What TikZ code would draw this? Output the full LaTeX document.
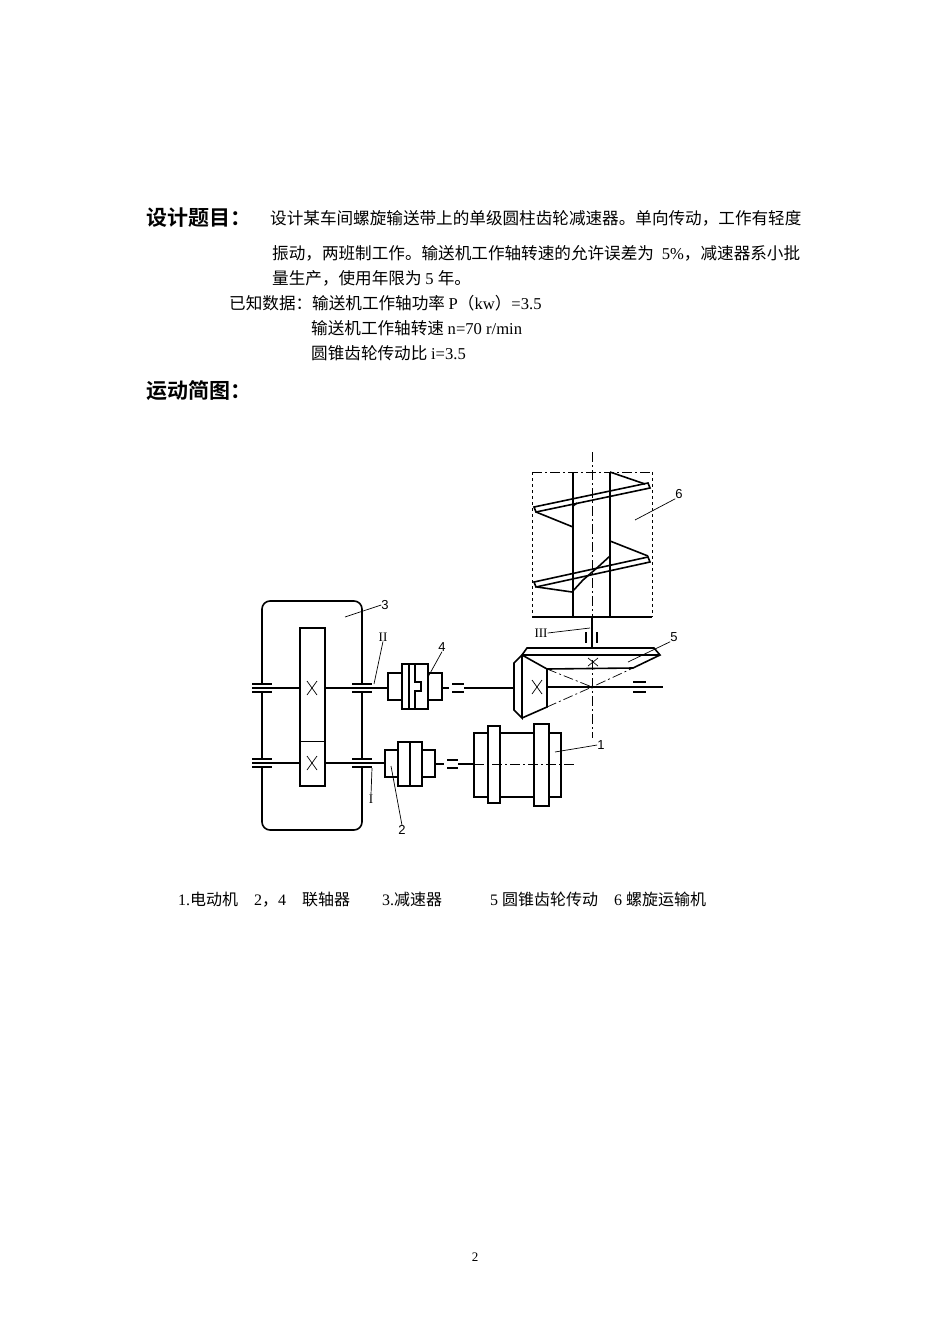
\documentclass[tikz,border=0pt]{standalone}
\usepackage{fontspec}
\setmainfont{Liberation Serif}
\newfontfamily\cjk{Noto Sans CJK SC}
\newfontfamily\cjkb{Noto Sans CJK SC Bold}
\newfontfamily\lab{Liberation Sans}
\begin{document}
\begin{tikzpicture}[x=1pt,y=-1pt,
  thk/.style={line width=1.6pt},
  thn/.style={line width=0.7pt},
  dd/.style={line width=0.7pt,dash pattern=on 10pt off 3pt on 2pt off 3pt},
  bt/.style={anchor=base west,inner sep=0pt,font=\fontsize{16.6}{18}\selectfont},
  lb/.style={inner sep=0pt,font=\lab\fontsize{13}{14}\selectfont}]
\useasboundingbox[fill=white] (0,0) rectangle (950,1344);
% ---- text
\node[bt,font=\cjkb\fontsize{21}{24}\selectfont] (t1) at (146,225) {设计题目：};
\node[bt] (l1) at (270,224) {\cjk 设计某车间螺旋输送带上的单级圆柱齿轮减速器。单向传动，工作有轻度};
\node[bt] (l2) at (272,259) {\cjk 振动，两班制工作。输送机工作轴转速的允许误差为 \rmfamily\ 5\%\cjk ，减速器系小批};
\node[bt] (l3) at (272,284) {\cjk 量生产，使用年限为 \rmfamily 5 \cjk 年。};
\node[bt] (l4) at (229,309) {\cjk 已知数据：输送机工作轴功率 \rmfamily P\cjk （\rmfamily kw\cjk ）\rmfamily =3.5};
\node[bt] (l5) at (311,334) {\cjk 输送机工作轴转速 \rmfamily n=70 r/min};
\node[bt] (l6) at (311,359) {\cjk 圆锥齿轮传动比 \rmfamily i=3.5};
\node[bt,font=\cjkb\fontsize{21}{24}\selectfont] (t2) at (146,398) {运动简图：};
\node[bt,font=\fontsize{16}{18}\selectfont] (cap) at (178,905) {1.\cjk 电动机\rmfamily\quad 2\cjk ，\rmfamily 4\quad \cjk 联轴器\rmfamily\qquad 3.\cjk 减速器\rmfamily\qquad\quad 5 \cjk 圆锥齿轮传动\rmfamily\quad 6 \cjk 螺旋运输机};
\node[font=\fontsize{13}{14}\selectfont,inner sep=0pt] (pg) at (475,1257) {2};
% ---- reducer housing
\draw[thk,rounded corners=8pt] (262,683) -- (262,601) -- (362,601) -- (362,683);
\draw[thk,rounded corners=8pt] (262,767) -- (262,830) -- (362,830) -- (362,767);
\draw[thk] (262,692) -- (262,758) (362,692) -- (362,758);
\foreach \y in {688,763}{
  \draw[thk] (252,\y-4) -- (272,\y-4) (252,\y+4) -- (272,\y+4);
  \draw[thk] (352,\y-4) -- (372,\y-4) (352,\y+4) -- (372,\y+4);
}
\draw[thk] (300,628) rectangle (325,786);
\draw[thn] (300,741) -- (325,741);
\foreach \y in {688,763}{\draw[thn] (307,\y-7) -- (317,\y+7) (317,\y-7) -- (307,\y+7);}
\draw[thk] (252,688) -- (300,688) (325,688) -- (388,688);
\draw[thk] (252,763) -- (300,763) (325,763) -- (385,763);
% coupling 4
\draw[thk] (388,673) rectangle (402,700) (402,664) rectangle (428,709) (428,673) rectangle (442,700);
\draw[thk] (409,664) -- (409,709);
\draw[thk] (415,664) -- (415,682) -- (421,682) -- (421,691) -- (415,691) -- (415,709);
\draw[thk] (442,688) -- (449,688);
\draw[thk] (452,684) -- (464,684) (452,692) -- (464,692);
\draw[thk] (464,688) -- (514,688);
% coupling 2
\draw[thk] (385,750) rectangle (398,777) (398,742) rectangle (422,786) (422,750) rectangle (435,777);
\draw[thk] (410,742) -- (410,786);
\draw[thk] (435,764) -- (444,764);
\draw[thk] (447,760) -- (458,760) (447,768) -- (458,768);
\draw[thk] (458,764) -- (474,764);
% motor
\draw[thk] (474,733) rectangle (488,797) (488,726) rectangle (500,803) (500,733) rectangle (534,797) (534,724) rectangle (549,806) (549,733) rectangle (561,797);
\draw[dd] (474,764) -- (575,764);
% bevel pinion
\draw[thk] (514,663) -- (522,655) -- (522,718) -- (514,710) -- cycle;
\draw[thk] (522,655) -- (547,669) -- (547,707) -- (522,718);
\draw[thn] (532,680) -- (542,694) (542,680) -- (532,694);
\draw[thk] (547,687) -- (663,687);
\draw[thk] (633,682) -- (646,682) (633,692) -- (646,692);
% bevel gear
\draw[thk] (522,655) -- (527,648) -- (654,648) -- (660,655) -- (633,668) -- (547,669);
\draw[thk] (522,655) -- (660,655);
\draw[thn] (588,658) -- (598,666) (598,658) -- (588,666);
\draw[dd] (547,669) -- (592,687) (547,707) -- (592,687) -- (633,668);
\draw[dd] (592,660) -- (592,738);
\fill (592,687) circle (1.5pt);
% shaft III
\draw[thk] (592,617) -- (592,648);
\draw[thk] (586,632) -- (586,643) (597,632) -- (597,643);
% screw conveyor
\draw[dd] (532,472) -- (652,472);
\draw[thn,dashed] (532,472) -- (532,617) (652,472) -- (652,617);
\draw[thk] (532,617) -- (652,617);
\draw[thk] (573,472) -- (573,617) (610,472) -- (610,617);
\draw[dd] (592,452) -- (592,617);
\draw[thk] (534,507) -- (648,483) -- (650,488) -- (536,512) -- cycle;
\draw[thk] (534,582) -- (648,557) -- (650,562) -- (536,587) -- cycle;
\draw[thk] (610,472) -- (645,484) (536,512) -- (573,527) (573,506) -- (577,503);
\draw[thk] (610,541) -- (648,556) (537,587) -- (572,592) -- (583,580) (610,556) -- (598,567) -- (583,580);
% labels
\node[lb] (n3) at (385,605) {3}; \draw[thn] (345,617) -- (n3.west);
\node[lb,font=\fontsize{13}{14}\selectfont] (nII) at (383,637) {II}; \draw[thn] (374,684) -- (nII.south);
\node[lb,font=\fontsize{13}{14}\selectfont] (nI) at (371,799) {I}; \draw[thn] (372,768) -- (nI.north);
\node[lb] (n2) at (402,830) {2}; \draw[thn] (391,766) -- (n2.north);
\node[lb] (n4) at (442,647) {4}; \draw[thn] (428,677) -- (n4.south);
\node[lb] (n1) at (601,745) {1}; \draw[thn] (555,752) -- (n1.west);
\node[lb,font=\fontsize{13}{14}\selectfont] (nIII) at (541,633) {III}; \draw[thn] (nIII.east) -- (590,628);
\node[lb] (n5) at (674,637) {5}; \draw[thn] (628,662) -- (n5.south west);
\node[lb] (n6) at (679,494) {6}; \draw[thn] (635,520) -- (n6.south west);
\end{tikzpicture}
\end{document}
